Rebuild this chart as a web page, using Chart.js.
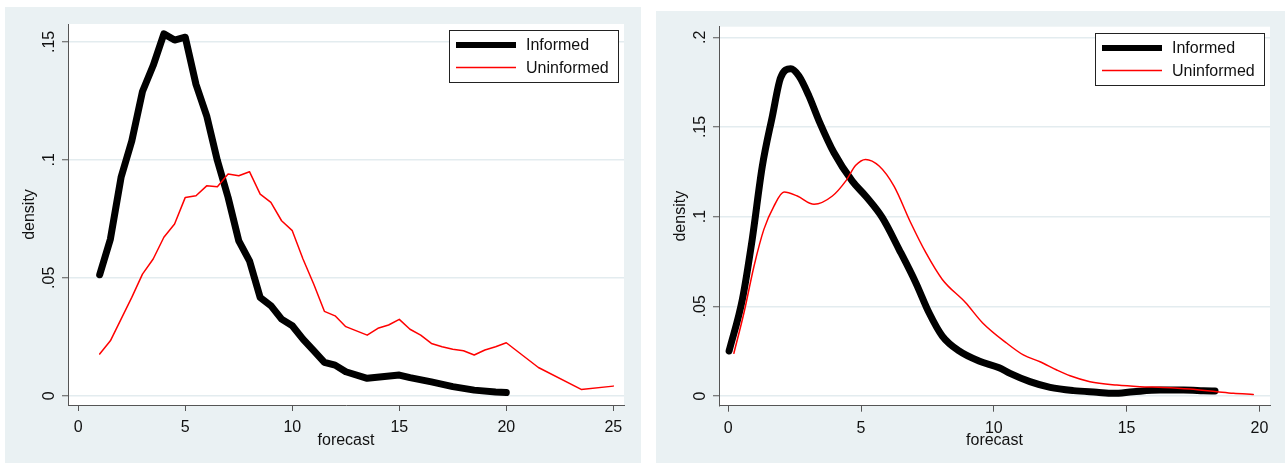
<!DOCTYPE html>
<html>
<head>
<meta charset="utf-8">
<script src="https://cdn.jsdelivr.net/npm/chart.js@4/dist/chart.umd.min.js"></script>
<style>
  html, body { margin: 0; padding: 0; background: #ffffff; width: 1285px; height: 464px; overflow: hidden; }
  .panel { position: absolute; background: #eaf1f3; }
  #p1 { left: 5px; top: 7px; width: 636px; height: 456px; }
  #p2 { left: 656px; top: 11px; width: 629px; height: 452px; }
  canvas { display: block; }
</style>
</head>
<body>
<div class="panel" id="p1"><canvas id="c1" width="636" height="456"></canvas></div>
<div class="panel" id="p2"><canvas id="c2" width="629" height="452"></canvas></div>
<script>
// ---- Panel 1: density of forecasts (raw) ----
const informedX1 = [1, 1.5, 2, 2.5, 3, 3.5, 4, 4.5, 5, 5.5, 6, 6.5, 7, 7.5, 8, 8.5, 9, 9.5, 10, 10.5, 11, 11.5, 12, 12.5, 13.5, 15, 15.5, 16.5, 17.5, 18.5, 19.5, 20];
const informedY1 = [0.0513, 0.0664, 0.0926, 0.108, 0.129, 0.140, 0.1534, 0.1508, 0.152, 0.132, 0.1187, 0.0997, 0.0841, 0.0657, 0.0572, 0.0417, 0.0382, 0.0325, 0.0297, 0.024, 0.0191, 0.0142, 0.013, 0.0102, 0.0074, 0.0088, 0.0077, 0.0059, 0.0039, 0.0024, 0.0016, 0.0014];
const uninformedX1 = [1, 1.5, 2, 2.5, 3, 3.5, 4, 4.5, 5, 5.5, 6, 6.5, 7, 7.5, 8, 8.5, 9, 9.5, 10, 10.5, 11, 11.5, 12, 12.5, 13.5, 14, 14.5, 15, 15.5, 16, 16.5, 17, 17.5, 18, 18.5, 19, 19.5, 20, 21.5, 23.5, 25];
const uninformedY1 = [0.0177, 0.0233, 0.0325, 0.0417, 0.0516, 0.058, 0.0672, 0.0728, 0.0841, 0.0848, 0.089, 0.0886, 0.094, 0.0933, 0.095, 0.0855, 0.082, 0.0742, 0.07, 0.058, 0.0474, 0.0358, 0.0339, 0.0293, 0.0257, 0.0286, 0.030, 0.0324, 0.0282, 0.0257, 0.0222, 0.0208, 0.0197, 0.0191, 0.0173, 0.0194, 0.0208, 0.0225, 0.012, 0.0027, 0.0041];
const xTicks1 = [0, 5, 10, 15, 20, 25];
const yTicks1 = [0, 0.05, 0.1, 0.15];
const yTickLabels1 = ['0', '.05', '.1', '.15'];

// ---- Panel 2: smoothed density of forecasts ----
const informedX2 = [0.03, 0.53, 0.9, 1.28, 1.66, 1.97, 2.35, 2.66, 3.04, 3.42, 3.98, 4.67, 5.17, 5.8, 6.43, 7.06, 7.56, 8.06, 8.69, 9.44, 10.2, 10.61, 11.36, 12.12, 13.0, 13.88, 14.5, 15.25, 16.26, 17.14, 17.89, 18.33];
const informedY2 = [0.0251, 0.0539, 0.0873, 0.128, 0.156, 0.1774, 0.1824, 0.1784, 0.1672, 0.1533, 0.1356, 0.1198, 0.1115, 0.0994, 0.0818, 0.0632, 0.0464, 0.0334, 0.0251, 0.0195, 0.0158, 0.0126, 0.008, 0.0048, 0.003, 0.0021, 0.0015, 0.0024, 0.0033, 0.0033, 0.003, 0.0028];
const uninformedX2 = [0.21, 0.59, 0.97, 1.34, 1.72, 2.1, 2.6, 3.23, 3.92, 4.42, 4.8, 5.17, 5.68, 6.24, 6.87, 7.44, 8.06, 8.94, 9.57, 10.49, 11.11, 11.74, 12.37, 12.87, 13.62, 14.63, 15.5, 16.38, 17.39, 18.4, 19.02, 19.77];
const uninformedY2 = [0.0238, 0.0464, 0.0725, 0.0929, 0.1059, 0.1137, 0.1115, 0.1069, 0.1115, 0.1198, 0.1286, 0.1319, 0.1282, 0.117, 0.0966, 0.0799, 0.065, 0.052, 0.0409, 0.0294, 0.0229, 0.0191, 0.0145, 0.0113, 0.008, 0.0061, 0.0052, 0.0048, 0.0039, 0.0024, 0.0015, 0.0009];
const xTicks2 = [0, 5, 10, 15, 20];
const yTicks2 = [0, 0.05, 0.1, 0.15, 0.2];
const yTickLabels2 = ['0', '.05', '.1', '.15', '.2'];

const seriesNames = ['Informed', 'Uninformed'];

const FONT = { family: '"Liberation Sans", Arial, Helvetica, sans-serif', size: 16 };
const INK = '#111111';
const AXIS = '#555555';
const GRID = '#e3ecef';

function points(xs, ys) {
  return xs.map((x, i) => ({ x: x, y: ys[i] }));
}

// White plot region inside the tinted graph region
const plotRegion = {
  id: 'plotRegion',
  beforeDraw(chart) {
    const a = chart.chartArea, ctx = chart.ctx;
    ctx.save();
    ctx.fillStyle = '#ffffff';
    ctx.fillRect(a.left, a.top, a.right - a.left, a.bottom - a.top);
    ctx.restore();
  }
};

// Boxed legend in the upper-right corner of the plot region
const boxLegend = {
  id: 'boxLegend',
  afterDatasetsDraw(chart, args, opts) {
    const ctx = chart.ctx, a = chart.chartArea;
    const w = 169, h = 52;
    const x0 = Math.round(a.right - 6 - w), y0 = Math.round(a.top + opts.inset);
    ctx.save();
    ctx.fillStyle = '#ffffff';
    ctx.fillRect(x0, y0, w, h);
    ctx.strokeStyle = '#222222';
    ctx.lineWidth = 1;
    ctx.strokeRect(x0 + 0.5, y0 + 0.5, w, h);
    chart.data.datasets.forEach((ds, i) => {
      const yy = y0 + 15 + i * 22.5;
      ctx.strokeStyle = ds.borderColor;
      ctx.lineWidth = ds.legendWidth;
      ctx.lineCap = 'butt';
      ctx.beginPath();
      ctx.moveTo(x0 + 7, yy);
      ctx.lineTo(x0 + 67, yy);
      ctx.stroke();
      ctx.fillStyle = INK;
      ctx.font = FONT.size + 'px ' + FONT.family;
      ctx.textBaseline = 'middle';
      ctx.textAlign = 'left';
      ctx.fillText(ds.label, x0 + 77, yy + 1);
    });
    ctx.restore();
  }
};

function makeChart(id, cfg) {
  return new Chart(document.getElementById(id), {
    type: 'line',
    data: {
      datasets: [
        {
          label: seriesNames[0],
          data: points(cfg.ix, cfg.iy),
          borderColor: '#000000',
          borderWidth: 7,
          legendWidth: 6,
          order: 1,
          tension: cfg.smooth ? 0.4 : 0,
          cubicInterpolationMode: cfg.smooth ? 'monotone' : 'default'
        },
        {
          label: seriesNames[1],
          data: points(cfg.ux, cfg.uy),
          borderColor: '#ff0000',
          borderWidth: 1.5,
          legendWidth: 1.5,
          order: 0,
          tension: cfg.smooth ? 0.4 : 0,
          cubicInterpolationMode: cfg.smooth ? 'monotone' : 'default'
        }
      ]
    },
    options: {
      responsive: false,
      animation: false,
      devicePixelRatio: 1,
      layout: { padding: { top: cfg.padTop, right: cfg.padRight, left: 0, bottom: 0 } },
      elements: {
        point: { radius: 0 },
        line: { borderJoinStyle: 'round', borderCapStyle: 'round', fill: false }
      },
      plugins: {
        legend: { display: false },
        tooltip: { enabled: false },
        boxLegend: { inset: cfg.legendInset }
      },
      scales: {
        x: {
          type: 'linear',
          min: cfg.xMin, max: cfg.xMax,
          afterBuildTicks: s => { s.ticks = cfg.xTicks.map(v => ({ value: v })); },
          afterFit: s => { s.height = cfg.xAxisH; },
          ticks: { font: FONT, color: INK, padding: 7, maxRotation: 0, autoSkip: false, callback: v => String(v) },
          grid: { drawOnChartArea: false, tickLength: 6, tickColor: AXIS, tickWidth: 1 },
          border: { color: AXIS, width: 1 },
          title: { display: true, text: 'forecast', font: FONT, color: INK, padding: { top: 0, bottom: 12.7 } }
        },
        y: {
          type: 'linear',
          min: cfg.yMin, max: cfg.yMax,
          afterBuildTicks: s => { s.ticks = cfg.yTicks.map(v => ({ value: v })); },
          afterFit: s => { s.width = 63; },
          ticks: {
            font: FONT, color: INK, padding: 1.5, minRotation: 90, maxRotation: 90,
            crossAlign: 'center', autoSkip: false,
            callback: (v, i) => cfg.yLabels[i]
          },
          grid: { color: GRID, lineWidth: 1.5, tickLength: 6, tickColor: AXIS, tickWidth: 1 },
          border: { color: AXIS, width: 1 },
          title: { display: true, text: 'density', font: FONT, color: INK, padding: { top: 15, bottom: 0 } }
        }
      }
    },
    plugins: [plotRegion, boxLegend]
  });
}

makeChart('c1', {
  ix: informedX1, iy: informedY1, ux: uninformedX1, uy: uninformedY1,
  xTicks: xTicks1, yTicks: yTicks1, yLabels: yTickLabels1,
  xMin: -0.48, xMax: 25.5, yMin: -0.0039, yMax: 0.1576,
  padTop: 17, padRight: 17, xAxisH: 58, legendInset: 5.5, smooth: false
});

makeChart('c2', {
  ix: informedX2, iy: informedY2, ux: uninformedX2, uy: uninformedY2,
  xTicks: xTicks2, yTicks: yTicks2, yLabels: yTickLabels2,
  xMin: -0.35, xMax: 20.4, yMin: -0.0054, yMax: 0.2059,
  padTop: 15.7, padRight: 15, xAxisH: 57.3, legendInset: 6.3, smooth: true
});
</script>
</body>
</html>
